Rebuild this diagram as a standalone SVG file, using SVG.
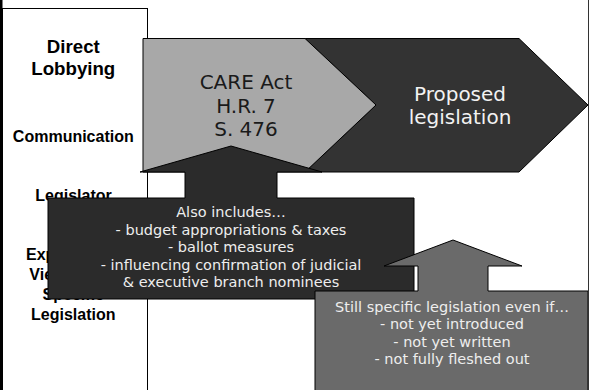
<svg xmlns="http://www.w3.org/2000/svg" width="589" height="390" viewBox="0 0 589 390">
<style>
.lbl{font-family:"Liberation Sans",Arial,sans-serif;font-weight:bold;fill:#000;text-anchor:middle}
.sh{font-family:"DejaVu Sans",Verdana,sans-serif;text-anchor:middle}
.outl{stroke:#000;stroke-width:1;stroke-linejoin:miter}
</style>
<rect x="0" y="0" width="589" height="390" fill="#fff"/>
<g id="left-panel">
  <rect x="2.5" y="8.5" width="145" height="390" fill="#fff" stroke="#000" stroke-width="1"/>
  <rect x="0" y="0" width="2.5" height="390" fill="#000"/>
  <text class="lbl" x="73.3" y="52.7" font-size="18.67">Direct</text>
  <text class="lbl" x="73.3" y="75" font-size="18.67">Lobbying</text>
  <text class="lbl" x="73.3" y="141.7" font-size="16">Communication</text>
  <text class="lbl" x="73.5" y="201" font-size="16">Legislator</text>
  <text class="lbl" x="26" y="260.4" font-size="16" style="text-anchor:start">Expressing</text>
  <text class="lbl" x="29.3" y="280.2" font-size="16" style="text-anchor:start">Views on</text>
  <text class="lbl" x="73.3" y="300" font-size="16">Specific</text>
  <text class="lbl" x="73.3" y="319.8" font-size="16">Legislation</text>
</g>
<g id="proposed">
  <polygon class="outl" points="305,38.5 519,38.5 588,105 519,172 305,172 376,105" fill="#333333"/>
  <text class="sh" x="460" y="101" font-size="20" fill="#f2f2f2">Proposed</text>
  <text class="sh" x="460" y="124" font-size="20" fill="#f2f2f2">legislation</text>
</g>
<g id="care-act">
  <polygon class="outl" points="143,38.5 305,38.5 376,105 305,172 143,172" fill="#a8a8a8"/>
  <text class="sh" x="246" y="89" font-size="20" fill="#1a1a1a">CARE Act</text>
  <text class="sh" x="246" y="113" font-size="20" fill="#1a1a1a">H.R. 7</text>
  <text class="sh" x="246" y="136" font-size="20" fill="#1a1a1a">S. 476</text>
</g>
<g id="connectors"></g>
<g id="also-includes">
  <polygon class="outl" points="48,198 185,198 185,172 140,172 231,146 322,172 277,172 277,198 414,198 414,299 48,299" fill="#2b2b2b"/>
  <text class="sh" x="231" y="217" font-size="14.5" fill="#eeeeee">Also includes…</text>
  <text class="sh" x="231" y="234.5" font-size="14.5" fill="#eeeeee">- budget appropriations &amp; taxes</text>
  <text class="sh" x="231" y="252" font-size="14.5" fill="#eeeeee">- ballot measures</text>
  <text class="sh" x="231" y="269.5" font-size="14.5" fill="#eeeeee">- influencing confirmation of judicial</text>
  <text class="sh" x="231" y="287" font-size="14.5" fill="#eeeeee">&amp; executive branch nominees</text>
</g>
<g id="still-specific">
  <polygon class="outl" points="315,291 418,291 418,266 384,266 453,240 522,266 488,266 488,291 588,291 588,391 315,391" fill="#6a6a6a"/>
  <text class="sh" x="452" y="311.7" font-size="14.5" fill="#eeeeee">Still specific legislation even if…</text>
  <text class="sh" x="452" y="329" font-size="14.5" fill="#eeeeee">- not yet introduced</text>
  <text class="sh" x="452" y="346.5" font-size="14.5" fill="#eeeeee">- not yet written</text>
  <text class="sh" x="452" y="364" font-size="14.5" fill="#eeeeee">- not fully fleshed out</text>
</g>
<line x1="588.5" y1="0" x2="588.5" y2="390" stroke="#333" stroke-width="1"/>
</svg>
